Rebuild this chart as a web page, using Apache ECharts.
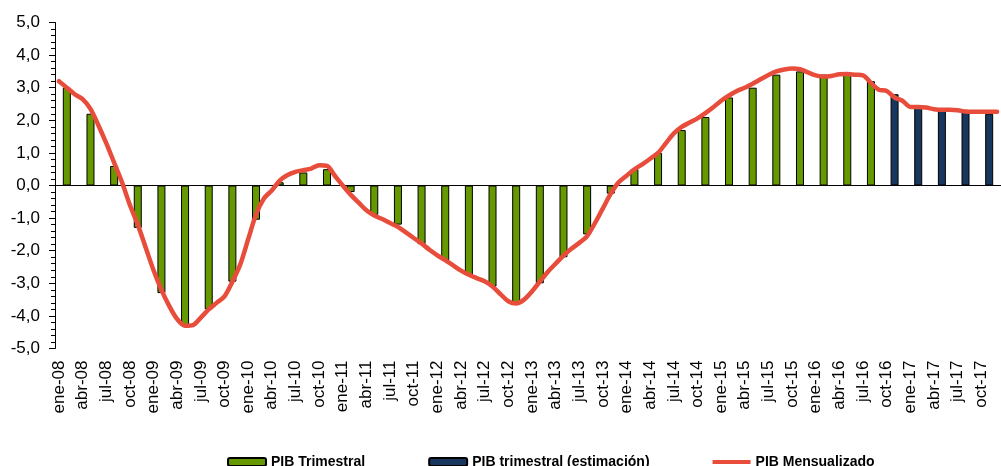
<!DOCTYPE html>
<html>
<head>
<meta charset="utf-8">
<script src="https://cdn.jsdelivr.net/npm/echarts@6/dist/echarts.min.js"></script>
<style>
  html, body { margin: 0; padding: 0; background: #fff; }
  #chart { width: 1001px; height: 466px; }
</style>
</head>
<body>
<div id="chart"></div>
<script>
// month names and years for the category axis (one category per month)
const monthNames = ['ene', 'feb', 'mar', 'abr', 'may', 'jun', 'jul', 'ago', 'sep', 'oct', 'nov', 'dic']
const years = ['08', '09', '10', '11', '12', '13', '14', '15', '16', '17']

// quarterly GDP, Q1-08 .. Q3-16
const pibTrimestral = [
  3.0, 2.2, 0.6, -1.3,
  -3.3, -4.3, -3.8, -2.95,
  -1.05, 0.1, 0.4, 0.5,
  -0.2, -0.9, -1.2, -1.8,
  -2.3, -2.75, -3.1, -3.6,
  -3.0, -2.2, -1.5, -0.25,
  0.5, 1.0, 1.7, 2.1,
  2.7, 3.0, 3.4, 3.5,
  3.4, 3.4, 3.2
]

// quarterly estimate, Q4-16 .. Q4-17
const pibEstimacion = [2.8, 2.4, 2.3, 2.3, 2.2]

// monthly GDP, ene-08 .. dic-17
const pibMensual = [
  3.2, 3.0, 2.8, 2.65, 2.35, 1.85, 1.3, 0.7, 0.1, -0.6, -1.2, -1.9,
  -2.6, -3.2, -3.7, -4.1, -4.3, -4.28, -4.05, -3.8, -3.6, -3.4, -2.95, -2.42,
  -1.65, -0.89, -0.4, -0.15, 0.15, 0.32, 0.42, 0.47, 0.52, 0.62, 0.6, 0.3,
  0.0, -0.28, -0.52, -0.76, -0.92, -1.03, -1.15, -1.27, -1.44, -1.61, -1.78, -1.97,
  -2.14, -2.29, -2.45, -2.61, -2.74, -2.84, -2.94, -3.1, -3.33, -3.55, -3.62, -3.5,
  -3.25, -2.95, -2.65, -2.4, -2.15, -1.94, -1.76, -1.55, -1.15, -0.7, -0.25, 0.1,
  0.3, 0.5, 0.65, 0.82, 1.0, 1.3, 1.6, 1.8, 1.93, 2.06, 2.22, 2.4,
  2.6, 2.76, 2.9, 3.0, 3.12, 3.26, 3.39, 3.5, 3.56, 3.59, 3.57, 3.47,
  3.38, 3.34, 3.36, 3.41, 3.42, 3.4, 3.38, 3.15, 2.94, 2.9, 2.7, 2.6,
  2.41, 2.41, 2.39, 2.34, 2.32, 2.32, 2.31, 2.27, 2.26, 2.26, 2.26, 2.26
]

const months = []
years.forEach(y => monthNames.forEach(m => months.push(m + '-' + y)))

// quarterly bars sit on the middle month of each quarter
function toMonthly(values, firstQuarter) {
  const out = months.map(() => '-')
  values.forEach((v, i) => { out[(firstQuarter + i) * 3 + 1] = v })
  return out
}

const FONT = '"Liberation Sans", Arial, sans-serif'
const RED = '#E84C3A'

// plain line for the legend, 4px band inside an 8px tall box
const lineIcon = 'path://M0,2h38v4h-38z M0,0h0.01v8h-0.01z'

const chart = echarts.init(document.getElementById('chart'))
chart.setOption({
  animation: false,
  textStyle: { fontFamily: FONT, color: '#000' },
  grid: { left: 55, top: 22.5, right: -10, bottom: 117.5 },
  legend: {
    left: 222,
    top: 450,
    itemWidth: 38,
    itemHeight: 8,
    itemGap: 63,
    textStyle: { fontFamily: FONT, fontSize: 14, fontWeight: 'bold', color: '#000' },
    data: [
      'PIB Trimestral',
      'PIB trimestral (estimación)',
      { name: 'PIB Mensualizado', icon: lineIcon, itemStyle: { color: RED } }
    ]
  },
  xAxis: [
    {
      // axis line and monthly ticks on the zero line
      type: 'category',
      data: months,
      boundaryGap: true,
      axisLine: { onZero: true, lineStyle: { color: '#000', width: 1 } },
      axisTick: { interval: 0, length: 6, lineStyle: { color: '#000' } },
      axisLabel: { show: false }
    },
    {
      // quarterly labels at the bottom
      type: 'category',
      data: months,
      position: 'bottom',
      boundaryGap: true,
      axisLine: { show: false, onZero: false },
      axisTick: { show: false },
      axisLabel: { interval: 2, rotate: 90, margin: 12, fontSize: 17, fontFamily: FONT, color: '#000' }
    }
  ],
  yAxis: {
    type: 'value',
    min: -5,
    max: 5,
    interval: 1,
    axisLine: { show: true, lineStyle: { color: '#000', width: 1 } },
    axisTick: { show: true, length: 6, lineStyle: { color: '#000' } },
    minorTick: { show: true, splitNumber: 5, length: 4, lineStyle: { color: '#000' } },
    splitLine: { show: false },
    axisLabel: {
      margin: 15,
      fontSize: 17,
      fontFamily: FONT,
      color: '#000',
      formatter: v => v.toFixed(1).replace('.', ',')
    }
  },
  series: [
    {
      name: 'PIB Trimestral',
      type: 'bar',
      data: toMonthly(pibTrimestral, 0),
      barWidth: 8,
      barGap: '-100%',
      itemStyle: { color: '#669900', borderColor: '#000', borderWidth: 1 }
    },
    {
      name: 'PIB trimestral (estimación)',
      type: 'bar',
      data: toMonthly(pibEstimacion, pibTrimestral.length),
      barWidth: 8,
      barGap: '-100%',
      itemStyle: { color: '#17375E', borderColor: '#000', borderWidth: 1 }
    },
    {
      name: 'PIB Mensualizado',
      type: 'line',
      data: pibMensual,
      smooth: 0.3,
      symbol: 'none',
      z: 5,
      lineStyle: { color: RED, width: 4.5, cap: 'round', join: 'round' },
      itemStyle: { color: RED }
    }
  ]
})
</script>
</body>
</html>
